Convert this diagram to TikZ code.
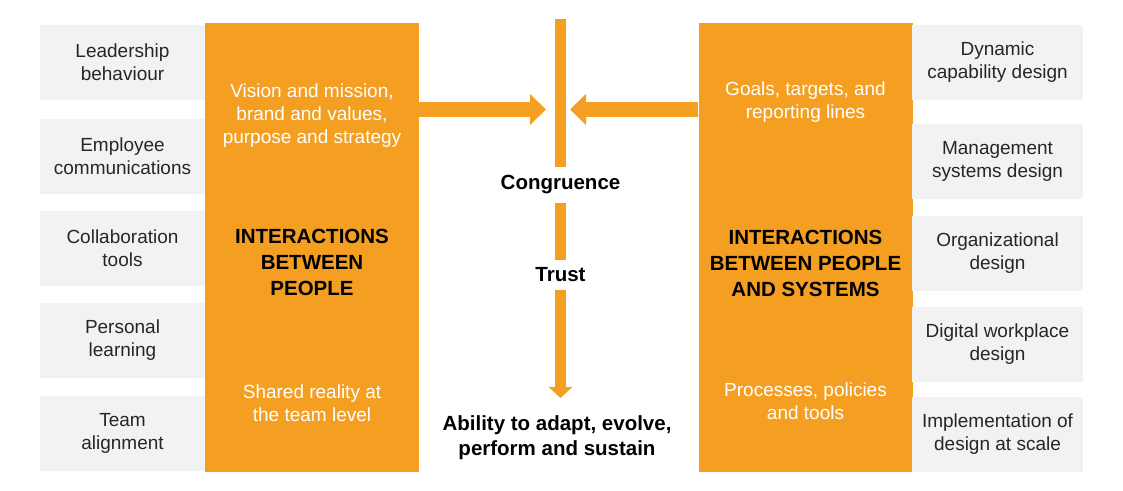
\documentclass[tikz,border=0pt]{standalone}
\usepackage{fontspec}
\setmainfont{Liberation Sans}
\usetikzlibrary{arrows.meta}
\definecolor{mckorange}{HTML}{F49F22}
\definecolor{boxgrey}{HTML}{F2F2F2}

\begin{document}
\begin{tikzpicture}[x=1pt, y=-1pt,
    sidebox/.style={fill=boxgrey, minimum width=165pt, minimum height=75pt, inner sep=0pt, align=center, text=black!85, font=\fontsize{19}{23}\selectfont},
    pillar/.style={fill=mckorange, minimum width=214pt, minimum height=449pt, inner sep=0pt},
    lighttext/.style={text=white, align=center, font=\fontsize{19}{23}\selectfont},
    heading/.style={align=center, font=\bfseries\fontsize{20.5}{26}\selectfont},
    bar/.style={draw=mckorange, fill=mckorange, line width=11pt},
    fat/.style={draw=mckorange, fill=mckorange, line width=15pt, -{Triangle[width=30pt,length=16pt]}}]
        \useasboundingbox (0,0) rectangle (1123,490);

        \node[pillar] (L) at (312,247.5) {};
        \node[pillar] (R) at (805.5,247.5) {};

        \node[sidebox] (lead) at (122.5,62.5) {Leadership\\behaviour};
        \node[sidebox] (employee) at (122.5,156.5) {Employee\\communications};
        \node[sidebox] (collab) at (122.5,248.5) {Collaboration\\tools};
        \node[sidebox] (personal) at (122.5,340) {Personal\\learning};
        \node[sidebox] (team) at (122.5,433) {Team\\alignment};

        \node[sidebox, minimum width=171pt] (dynamic) at (997.5,62.5) {Dynamic\\capability design};
        \node[sidebox, minimum width=171pt] (mgmt) at (997.5,161.5) {Management\\systems design};
        \node[sidebox, minimum width=171pt] (orgdesign) at (997.5,253.5) {Organizational\\design};
        \node[sidebox, minimum width=171pt] (digital) at (997.5,344) {Digital workplace\\design};
        \node[sidebox, minimum width=171pt] (implement) at (997.5,434) {Implementation of\\design at scale};

        \node[lighttext] (vision) at (312,116) {Vision and mission,\\brand and values,\\purpose and strategy};
        \node[heading] (people) at (312,262) {INTERACTIONS\\BETWEEN\\PEOPLE};
        \node[lighttext] (shared) at (312,403) {Shared reality at\\the team level};

        \node[lighttext] (goals) at (805.5,102) {Goals, targets, and\\reporting lines};
        \node[heading] (systems) at (805.5,263) {INTERACTIONS\\BETWEEN PEOPLE\\AND SYSTEMS};
        \node[lighttext] (processes) at (805.5,401) {Processes, policies\\and tools};

        \coordinate (top) at (560.5,19);
        \coordinate (tip) at (560.5,398);
        \coordinate (meetL) at (546,109.5);
        \coordinate (meetR) at (570,109.5);
        \node[heading, minimum height=35pt, inner sep=0pt] (cong) at (560.5,185) {Congruence};
        \node[heading, minimum height=29pt, inner sep=0pt] (trust) at (560.5,275) {Trust};
        \node[heading, font=\bfseries\fontsize{20.5}{25}\selectfont] (ability) at (557,437.5) {Ability to adapt, evolve,\\perform and sustain};

        \draw[bar] (top) -- (cong.north);
        \draw[bar] (cong.south) -- (trust.north);
        \draw[bar, -{Triangle[width=23pt,length=11pt]}] (trust.south) -- (tip);
        \draw[fat] (L.east |- meetL) -- (meetL);
        \draw[fat] (R.west |- meetR) -- (meetR);
    \end{tikzpicture}
\end{document}
